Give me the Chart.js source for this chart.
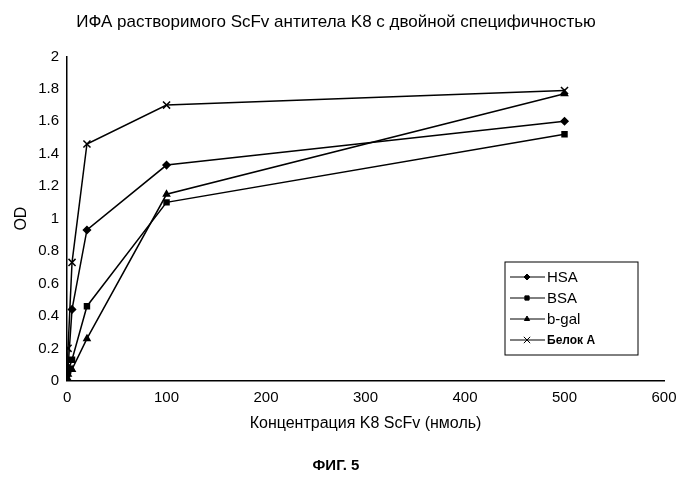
<!DOCTYPE html>
<html lang="ru">
<head>
  <meta charset="UTF-8">
  <title>ИФА K8 ScFv</title>
  <script src="https://cdn.jsdelivr.net/npm/chart.js"></script>
  <style>
    body { margin: 0; background: #fff; }
    #wrap { width: 700px; height: 489px; }
  </style>
</head>
<body>
  <div id="wrap"><canvas id="chart"></canvas></div>
  <script>
    // Data
    const concentrations = [0, 1, 5, 20, 100, 500];
    const seriesNames = ["HSA", "BSA", "b-gal", "Белок A"];
    const hsa = [0.05, 0.08, 0.44, 0.93, 1.33, 1.6];
    const bsa = [0.04, 0.06, 0.13, 0.46, 1.1, 1.52];
    const bgal = [0.02, 0.04, 0.07, 0.26, 1.15, 1.77];
    const belokA = [0.08, 0.2, 0.73, 1.46, 1.7, 1.79];
    const markers = ["rectRot", "rect", "triangle", "crossRot"];

    const font = "Arial, 'Liberation Sans', sans-serif";

    const datasets = [hsa, bsa, bgal, belokA].map((vals, i) => ({
      label: seriesNames[i],
      data: concentrations.map((x, j) => ({ x: x, y: vals[j] })),
      borderColor: "#000",
      backgroundColor: "#000",
      borderWidth: 1.5,
      pointStyle: markers[i],
      pointRadius: i === 3 ? 5 : 3.5,
      pointBorderWidth: 1.5
    }));

    // Legend box inside the plot area, lower right
    const insideLegend = {
      id: "insideLegend",
      afterDraw(chart) {
        const ctx = chart.ctx;
        const x0 = 505, y0 = 262, w = 133, h = 93;
        ctx.save();
        ctx.fillStyle = "#fff";
        ctx.fillRect(x0, y0, w, h);
        ctx.strokeStyle = "#000";
        ctx.lineWidth = 1;
        ctx.strokeRect(x0, y0, w, h);
        chart.data.datasets.forEach((ds, i) => {
          const y = y0 + 15 + i * 21;
          ctx.strokeStyle = "#000";
          ctx.beginPath();
          ctx.moveTo(x0 + 5, y);
          ctx.lineTo(x0 + 40, y);
          ctx.stroke();
          ctx.fillStyle = "#000";
          Chart.helpers.drawPoint(ctx, { pointStyle: ds.pointStyle, radius: ds.pointRadius - 0.5, borderWidth: 1.5 }, x0 + 22, y);
          ctx.font = (i === 3 ? "bold 12px " : "15px ") + font;
          ctx.textBaseline = "middle";
          ctx.fillText(ds.label, x0 + 42, y + 1);
        });
        ctx.restore();
      }
    };

    new Chart(document.getElementById("chart"), {
      type: "line",
      data: { datasets: datasets },
      plugins: [insideLegend],
      options: {
        responsive: true,
        maintainAspectRatio: false,
        animation: false,
        layout: { padding: { left: 8, right: 36, top: 0, bottom: 0 } },
        plugins: {
          legend: { display: false },
          title: {
            display: true,
            text: "ИФА растворимого ScFv антитела K8 с двойной специфичностью",
            color: "#000",
            font: { family: font, size: 17, weight: "normal" },
            padding: { top: 12, bottom: 24 }
          },
          subtitle: {
            display: true,
            position: "bottom",
            text: "ФИГ. 5",
            color: "#000",
            font: { family: font, size: 15, weight: "bold" },
            padding: { top: 20, bottom: 14 }
          }
        },
        scales: {
          x: {
            type: "linear",
            min: 0, max: 600,
            ticks: { stepSize: 100, color: "#000", font: { family: font, size: 15 } },
            grid: { display: false, tickLength: 5 },
            border: { color: "#000", width: 1.5 },
            title: { display: true, text: "Концентрация K8 ScFv (нмоль)", color: "#000", font: { family: font, size: 16 } }
          },
          y: {
            min: 0, max: 2,
            ticks: {
              stepSize: 0.2, color: "#000", font: { family: font, size: 15 },
              callback: v => String(Math.round(v * 10) / 10)
            },
            grid: { display: false, tickLength: 5 },
            border: { color: "#000", width: 1.5 },
            title: { display: true, text: "OD", color: "#000", font: { family: font, size: 16 } }
          }
        }
      }
    });
  </script>
</body>
</html>
